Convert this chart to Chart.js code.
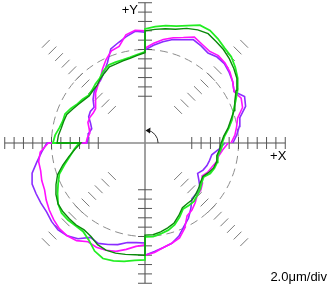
<!DOCTYPE html>
<html>
<head>
<meta charset="utf-8">
<script src="https://cdn.jsdelivr.net/npm/chart.js@4/dist/chart.umd.min.js"></script>
<style>
  html, body { margin: 0; padding: 0; background: #fff; }
  #chart { display: block; }
</style>
</head>
<body>
<canvas id="chart" width="329" height="286"></canvas>
<script>
// measured profile, polar: angle in degrees (CCW from +X), radius in um
// each quadrant is its own trace, so the boundary angles appear twice
const angles = [
  0, 5, 10, 15, 20, 25, 30, 35, 40, 45, 50, 55, 60, 65, 70, 75, 80, 85, 90,
  90, 95, 100, 105, 110, 115, 120, 125, 130, 135, 140, 145, 150, 155, 160, 165, 170, 175, 180,
  180, 185, 190, 195, 200, 205, 210, 215, 220, 225, 230, 235, 240, 245, 250, 255, 260, 265, 270,
  270, 275, 280, 285, 290, 295, 300, 305, 310, 315, 320, 325, 330, 335, 340, 345, 350, 355, 360
];

const greenR = [
  16.5, 17.1, 18.2, 19.3, 20.1, 21.4, 22.9, 24.2, 25.2, 26.1, 26.5, 27.2, 27.8, 27.8, 26.7, 25.9, 25.5, 25.0, 24.4,
  19.5, 19.0, 18.6, 18.4, 18.4, 18.4, 17.8, 16.9, 16.5, 16.0, 15.8, 16.3, 16.7, 17.5, 18.2, 18.2, 18.6, 19.3, 19.7,
  14.1, 15.2, 16.3, 17.8, 19.5, 20.5, 21.6, 22.7, 23.3, 23.3, 23.1, 23.1, 24.0, 25.5, 26.3, 26.1, 25.7, 25.2, 25.0,
  20.1, 20.1, 19.7, 19.3, 18.6, 17.5, 16.3, 16.3, 16.3, 15.8, 15.4, 14.8, 14.5, 15.4, 15.8, 16.0, 15.8, 16.3, 16.7
];

const darkGreenR = [
  16.3, 16.9, 18.0, 19.0, 20.3, 21.2, 22.5, 24.0, 24.8, 25.5, 26.1, 26.5, 27.0, 26.7, 26.1, 25.2, 24.8, 24.4, 24.0,
  19.3, 18.8, 18.4, 18.2, 18.0, 18.0, 17.3, 16.7, 16.0, 15.8, 15.6, 16.0, 16.5, 17.1, 17.8, 18.0, 18.2, 18.6, 18.8,
  13.7, 15.0, 16.5, 18.2, 19.9, 21.0, 22.0, 22.7, 22.9, 22.9, 22.9, 22.7, 23.1, 24.0, 24.4, 24.4, 24.2, 24.0, 24.0,
  19.7, 19.7, 19.3, 18.8, 18.2, 17.1, 16.0, 15.8, 15.8, 15.4, 15.0, 14.5, 14.3, 15.0, 15.6, 15.8, 15.6, 16.0, 16.3
];

const magentaR = [
  18.4, 19.3, 19.9, 20.5, 22.2, 22.7, 22.0, 22.9, 23.7, 24.2, 24.4, 24.0, 24.4, 25.0, 24.0, 23.3, 22.5, 21.4, 20.3,
  24.0, 24.2, 23.5, 21.4, 21.0, 19.7, 18.2, 16.7, 15.8, 15.0, 13.9, 12.8, 12.8, 13.0, 13.0, 12.4, 12.0, 12.4, 12.6,
  20.7, 22.5, 23.1, 23.1, 23.5, 23.7, 24.4, 25.0, 25.5, 25.9, 25.9, 25.5, 24.4, 24.6, 24.4, 24.0, 23.1, 22.2, 21.8,
  24.0, 23.5, 22.7, 22.2, 21.6, 20.1, 18.0, 17.5, 16.7, 15.8, 15.6, 15.0, 14.1, 14.8, 15.2, 15.8, 16.0, 16.7, 17.8
];

const purpleR = [
  18.8, 19.7, 20.5, 21.0, 22.9, 23.5, 22.0, 22.9, 23.5, 24.0, 24.0, 23.5, 24.0, 24.4, 23.5, 22.9, 22.0, 21.0, 19.9,
  23.7, 24.0, 23.1, 22.2, 21.4, 19.0, 17.5, 16.5, 16.0, 15.4, 14.5, 13.3, 13.5, 13.3, 12.4, 11.8, 12.2, 12.2, 12.4,
  21.0, 22.2, 23.5, 25.0, 25.7, 25.7, 25.7, 25.7, 26.1, 26.3, 25.9, 25.0, 23.3, 23.7, 23.1, 22.5, 21.6, 21.4, 21.4,
  24.0, 23.3, 22.7, 22.2, 21.2, 19.7, 18.6, 17.1, 15.6, 15.4, 15.4, 14.1, 13.0, 13.7, 14.1, 14.3, 14.5, 15.8, 17.1
];

// grid: 2.0 um per division
const umPerDiv = 2.0;
const tickDivs = [5, 6, 7, 8, 9, 10, 11, 12, 13, 14, 15];
const axisDivs = 15;
const refCircleDivs = 10;
const scaleLabel = '2.0\u03bcm/div';

function toPoints(r) {
  return angles.map((a, i) => {
    const t = a * Math.PI / 180;
    return { x: r[i] * Math.cos(t), y: r[i] * Math.sin(t) };
  });
}

function trace(data, color, width) {
  return {
    data: toPoints(data),
    borderColor: color,
    borderWidth: width,
    showLine: true,
    fill: false,
    tension: 0,
    pointRadius: 0,
    pointHoverRadius: 0
  };
}

const roundnessGrid = {
  id: 'roundnessGrid',
  beforeDatasetsDraw(chart) {
    const { ctx, scales: { x, y } } = chart;
    const cx = x.getPixelForValue(0);
    const cy = y.getPixelForValue(0);
    const len = d => x.getPixelForValue(d * umPerDiv) - cx;

    ctx.save();

    // reference circle
    ctx.strokeStyle = '#8c8c8c';
    ctx.lineWidth = 1;
    ctx.setLineDash([8, 5]);
    ctx.beginPath();
    ctx.arc(cx, cy, len(refCircleDivs), 0, Math.PI * 2);
    ctx.stroke();
    ctx.setLineDash([]);

    // diagonal marks
    ctx.strokeStyle = '#7a7a7a';
    ctx.lineWidth = 1;
    [45, 135, 225, 315].forEach(deg => {
      const t = deg * Math.PI / 180;
      const ux = Math.cos(t), uy = -Math.sin(t);
      tickDivs.forEach(d => {
        const px = cx + ux * len(d), py = cy + uy * len(d);
        ctx.beginPath();
        ctx.moveTo(px - uy * 5.5, py + ux * 5.5);
        ctx.lineTo(px + uy * 5.5, py - ux * 5.5);
        ctx.stroke();
      });
    });

    // axes
    const L = len(axisDivs);
    ctx.strokeStyle = '#8a8a8a';
    ctx.lineWidth = 1.6;
    ctx.beginPath();
    ctx.moveTo(cx - L, cy); ctx.lineTo(cx + L, cy);
    ctx.moveTo(cx, cy - L); ctx.lineTo(cx, cy + L);
    ctx.stroke();

    ctx.strokeStyle = '#555';
    ctx.lineWidth = 1;
    tickDivs.forEach(d => {
      const p = len(d);
      ctx.beginPath();
      ctx.moveTo(cx + p, cy - 6); ctx.lineTo(cx + p, cy + 6);
      ctx.moveTo(cx - p, cy - 6); ctx.lineTo(cx - p, cy + 6);
      ctx.moveTo(cx - 7, cy + p); ctx.lineTo(cx + 7, cy + p);
      ctx.moveTo(cx - 7, cy - p); ctx.lineTo(cx + 7, cy - p);
      ctx.stroke();
    });

    // rotation arrow
    const ar = len(1.4);
    ctx.strokeStyle = '#333';
    ctx.lineWidth = 1;
    ctx.beginPath();
    ctx.arc(cx, cy, ar, 0, -Math.PI * 0.44, true);
    ctx.stroke();
    ctx.fillStyle = '#111';
    ctx.beginPath();
    ctx.moveTo(cx + 0.5, cy - ar + 0.5);
    ctx.lineTo(cx + 5.5, cy - ar - 2.5);
    ctx.lineTo(cx + 5, cy - ar + 3.5);
    ctx.closePath();
    ctx.fill();

    // labels
    ctx.fillStyle = '#000';
    ctx.font = '13px "Liberation Sans", Arial, sans-serif';
    ctx.textBaseline = 'middle';
    ctx.textAlign = 'right';
    ctx.fillText('+Y', cx - 7, 10);
    ctx.textAlign = 'center';
    ctx.fillText('+X', cx + L - 7, cy + 13);
    ctx.textAlign = 'right';
    ctx.fillText(scaleLabel, 327, 277);

    ctx.restore();
  }
};

new Chart(document.getElementById('chart'), {
  type: 'scatter',
  data: {
    datasets: [
      trace(darkGreenR, '#0a8a0a', 1.4),
      trace(greenR, '#22ee22', 1.8),
      trace(magentaR, '#ff10ff', 1.6),
      trace(purpleR, '#8a2cff', 1.6)
    ]
  },
  options: {
    responsive: false,
    animation: false,
    layout: { padding: 0 },
    plugins: { legend: { display: false }, tooltip: { enabled: false } },
    scales: {
      x: { type: 'linear', min: -31.016, max: 39.358, display: false },
      y: { type: 'linear', min: -30.588, max: 30.588, display: false }
    }
  },
  plugins: [roundnessGrid]
});
</script>
</body>
</html>
